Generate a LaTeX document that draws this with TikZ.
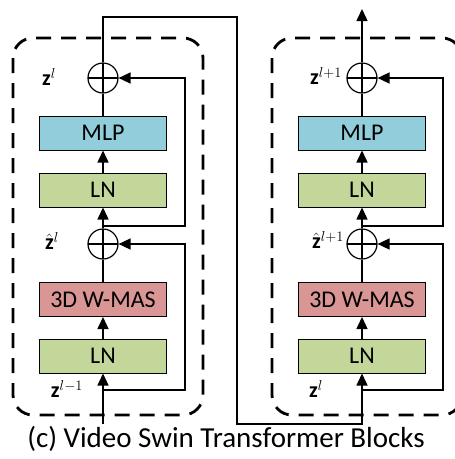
\documentclass[tikz,border=0pt]{standalone}
\usepackage{amsmath}
\usepackage{fontspec}
\setmainfont{Carlito}
\usepackage{xcolor}
\usetikzlibrary{arrows.meta}

\definecolor{mlpblue}{HTML}{92CDDC}
\definecolor{lngreen}{HTML}{C4D79B}
\definecolor{attnred}{HTML}{DA9694}

\tikzset{
  blk/.style={draw, line width=1pt, minimum width=127pt, minimum height=34pt,
    inner sep=0pt, font=\fontsize{24}{26}\selectfont},
  addnode/.style={draw, circle, line width=1.2pt, minimum size=30pt, inner sep=0pt,
    path picture={\draw[line width=1.2pt] (path picture bounding box.north) -- (path picture bounding box.south)
      (path picture bounding box.west) -- (path picture bounding box.east);}},
  lbl/.style={font=\fontsize{22}{24}\selectfont, inner sep=0pt},
  wire/.style={line width=1.5pt, -{Triangle[length=12pt,width=11pt]}},
  plain/.style={line width=1.5pt},
  frame/.style={line width=2.8pt, dash pattern=on 15pt off 10pt, rounded corners=20pt},
}

\begin{document}
\begin{tikzpicture}[x=1pt,y=-1pt]
  \clip (0,0) rectangle (455,459);

  % dashed frames of the two blocks
  \draw[frame] (13,38) rectangle (203,415);
  \draw[frame] (272,38) rectangle (462,415);

  % first block
  \node[blk, fill=lngreen] (ln1) at (103,356) {LN};
  \node[blk, fill=attnred] (att1) at (103,299.5) {3D W-MAS};
  \node[addnode] (add1) at (103,244) {};
  \node[blk, fill=lngreen] (ln2) at (103,190) {LN};
  \node[blk, fill=mlpblue] (mlp1) at (103,133) {MLP};
  \node[addnode] (add2) at (103,78) {};

  \coordinate (in1) at (103,424);
  \coordinate (sk1) at (103,390);
  \coordinate (rail1) at (185,244);
  \coordinate (sk2) at (103,226);
  \coordinate (rail2) at (185,78);

  \draw[wire] (in1) -- (ln1);
  \draw[wire] (ln1) -- (att1);
  \draw[plain] (att1) -- (add1);
  \draw[wire] (add1) -- (ln2);
  \draw[wire] (ln2) -- (mlp1);
  \draw[plain] (mlp1) -- (add2);
  \draw[wire] (sk1) -| (rail1) -- (add1);
  \draw[wire] (sk2) -| (rail2) -- (add2);

  \node[lbl] (zl) at (49,77) {$\mathbf{z}^{l}$};
  \node[lbl] (hzl) at (52,241) {$\hat{\mathbf{z}}^{l}$};
  \node[lbl] (zlm) at (67,389) {$\mathbf{z}^{l-1}$};

  % second block
  \node[blk, fill=lngreen] (rln1) at (362,356) {LN};
  \node[blk, fill=attnred] (ratt1) at (362,299.5) {3D W-MAS};
  \node[addnode] (radd1) at (362,244) {};
  \node[blk, fill=lngreen] (rln2) at (362,190) {LN};
  \node[blk, fill=mlpblue] (rmlp1) at (362,133) {MLP};
  \node[addnode] (radd2) at (362,78) {};

  \coordinate (rsk1) at (362,390);
  \coordinate (rrail1) at (443,244);
  \coordinate (rsk2) at (362,226);
  \coordinate (rrail2) at (443,78);
  \coordinate (out) at (362,9);

  \draw[wire] (rln1) -- (ratt1);
  \draw[plain] (ratt1) -- (radd1);
  \draw[wire] (radd1) -- (rln2);
  \draw[wire] (rln2) -- (rmlp1);
  \draw[plain] (rmlp1) -- (radd2);
  \draw[wire] (rsk1) -| (rrail1) -- (radd1);
  \draw[wire] (rsk2) -| (rrail2) -- (radd2);
  \draw[wire] (radd2) -- (out);

  \node[lbl] (rzl) at (326,76) {$\mathbf{z}^{l+1}$};
  \node[lbl] (rhzl) at (328,240) {$\hat{\mathbf{z}}^{l+1}$};
  \node[lbl] (rzin) at (316,389) {$\mathbf{z}^{l}$};

  % link from the first block to the second
  \coordinate (t1) at (103,17);
  \coordinate (t2) at (237,17);
  \coordinate (t3) at (237,424);
  \coordinate (t4) at (362,424);
  \draw[wire] (add2) -- (t1) -- (t2) -- (t3) -- (t4) -- (rln1);

  \node[font=\fontsize{29}{32}\selectfont, inner sep=0pt] (cap) at (226,439) {(c) Video Swin Transformer Blocks};
\end{tikzpicture}
\end{document}
